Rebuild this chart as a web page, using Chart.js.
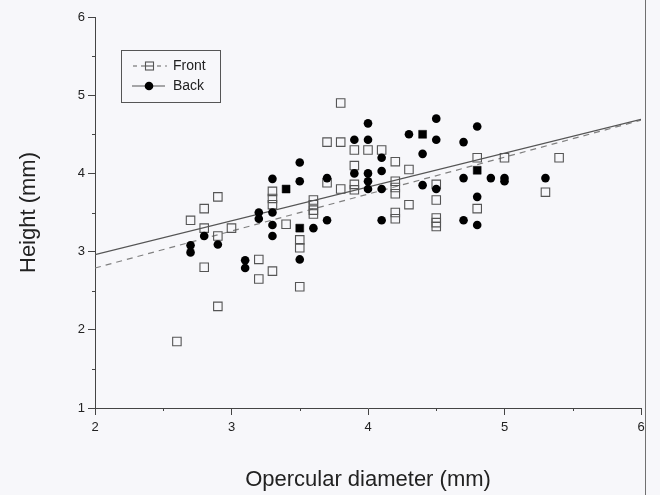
<!DOCTYPE html>
<html><head><meta charset="utf-8">
<script src="https://cdn.jsdelivr.net/npm/chart.js@4/dist/chart.umd.min.js"></script>
<style>
html,body{margin:0;padding:0;background:#f7f7fa;}
#wrap{position:relative;width:660px;height:495px;}
#edge{position:absolute;left:645px;top:0;width:1px;height:495px;background:#707070;}
</style></head><body>
<div id="wrap"><canvas id="c" width="660" height="495"></canvas><div id="edge"></div></div>
<script>
// Front (open squares)
const frontX = [2.6,2.7,2.8,2.8,2.8,2.9,2.9,2.9,3.0,3.2,3.2,3.3,3.3,3.3,3.3,3.4,3.5,3.5,3.5,3.6,3.6,3.6,3.6,3.7,3.7,3.8,3.8,3.8,3.9,3.9,3.9,3.9,4.0,4.1,4.2,4.2,4.2,4.2,4.2,4.2,4.3,4.3,4.5,4.5,4.5,4.5,4.5,4.8,4.8,5.0,5.3,5.4];
const frontY = [1.85,3.4,3.55,3.3,2.8,3.7,3.2,2.3,3.3,2.9,2.65,3.77,3.68,3.6,2.75,3.35,3.15,3.05,2.55,3.66,3.6,3.53,3.48,4.4,3.88,4.9,4.4,3.8,4.3,4.1,3.86,3.79,4.3,4.3,4.15,3.9,3.82,3.74,3.5,3.42,4.05,3.6,3.86,3.66,3.43,3.37,3.32,4.2,3.55,4.2,3.76,4.2];
// Back (filled circles)
const backX = [2.7,2.7,2.8,2.9,3.1,3.1,3.2,3.2,3.3,3.3,3.3,3.3,3.5,3.5,3.5,3.6,3.7,3.7,3.9,3.9,4.0,4.0,4.0,4.0,4.0,4.1,4.1,4.1,4.1,4.3,4.4,4.4,4.5,4.5,4.5,4.7,4.7,4.7,4.8,4.8,4.8,4.9,5.0,5.0,5.3];
const backY = [3.08,2.99,3.2,3.09,2.89,2.79,3.5,3.42,3.93,3.5,3.34,3.2,4.14,3.9,2.9,3.3,3.94,3.4,4.43,4.0,4.64,4.43,4.0,3.9,3.8,4.2,4.03,3.8,3.4,4.5,4.25,3.85,4.7,4.43,3.8,4.4,3.94,3.4,4.6,3.7,3.34,3.94,3.94,3.9,3.94];
// Coinciding points (drawn as filled squares)
const bothX = [3.4,3.5,4.4,4.8];
const bothY = [3.8,3.3,4.5,4.04];
// Regression lines (x ends and fitted heights)
const fitX = [2,6];
const frontFitY = [2.79,4.68];
const backFitY = [2.96,4.69];
// Ticks
const xTicks = [2,3,4,5,6];
const yTicks = [1,2,3,4,5,6];
const xMinor = [2.5,3.5,4.5,5.5];
const yMinor = [1.5,2.5,3.5,4.5,5.5];
const seriesNames = ['Front','Back'];

const pts = (xs, ys) => xs.map((x,i)=>({x, y:ys[i]}));
const FONT = "'Liberation Sans', Arial, sans-serif";
const AXC = '#444';

const legendPlugin = {
  id:'boxLegend',
  afterDraw(chart){
    const {ctx, chartArea:a} = chart;
    const L = a.left + 26, T = a.top + 33, W = 99, H = 52;
    ctx.save();
    ctx.strokeStyle = '#555'; ctx.lineWidth = 1;
    ctx.strokeRect(L+0.5, T+0.5, W, H);
    let y = T + 16;
    ctx.strokeStyle = '#777'; ctx.lineWidth = 1.2;
    ctx.setLineDash([4,4]);
    ctx.beginPath(); ctx.moveTo(L+12, y); ctx.lineTo(L+46, y); ctx.stroke();
    ctx.setLineDash([]);
    ctx.fillStyle = '#f7f7fa';
    ctx.fillRect(L+24, y-4.5, 9, 9);
    ctx.strokeStyle = '#555'; ctx.lineWidth = 1.1;
    ctx.strokeRect(L+24.5, y-4, 8, 8);
    ctx.beginPath(); ctx.moveTo(L+24.5, y); ctx.lineTo(L+32.5, y); ctx.stroke();
    ctx.fillStyle = '#222'; ctx.font = '14px ' + FONT; ctx.textBaseline = 'middle';
    ctx.fillText(seriesNames[0], L+52, y);
    y = T + 36;
    ctx.strokeStyle = '#555'; ctx.lineWidth = 1.2;
    ctx.beginPath(); ctx.moveTo(L+11, y); ctx.lineTo(L+44, y); ctx.stroke();
    ctx.fillStyle = '#000';
    ctx.beginPath(); ctx.arc(L+28, y, 4.3, 0, Math.PI*2); ctx.fill();
    ctx.fillStyle = '#222';
    ctx.fillText(seriesNames[1], L+52, y);
    ctx.restore();
  }
};

const minorTicks = {
  id:'minorTicks',
  afterDraw(chart){
    const {ctx, scales:{x, y}, chartArea:a} = chart;
    ctx.save();
    ctx.strokeStyle = AXC; ctx.lineWidth = 1;
    yMinor.forEach(v=>{
      const py = Math.round(y.getPixelForValue(v)) + 0.5;
      ctx.beginPath(); ctx.moveTo(a.left-3, py); ctx.lineTo(a.left, py); ctx.stroke();
    });
    xMinor.forEach(v=>{
      const px = Math.round(x.getPixelForValue(v)) + 0.5;
      ctx.beginPath(); ctx.moveTo(px, a.bottom); ctx.lineTo(px, a.bottom+3); ctx.stroke();
    });
    ctx.restore();
  }
};

new Chart(document.getElementById('c'), {
  type:'scatter',
  data:{
    datasets:[
      {label:'bothPts', data:pts(bothX,bothY), pointStyle:'rect', pointRadius:5.6, backgroundColor:'#000', borderColor:'#000', borderWidth:0.5},
      {label:seriesNames[1], data:pts(backX,backY), pointStyle:'circle', pointRadius:4.3, backgroundColor:'#000', borderColor:'#000', borderWidth:0},
      {label:seriesNames[0], data:pts(frontX,frontY), pointStyle:'rect', pointRadius:6, backgroundColor:'rgba(0,0,0,0)', borderColor:'#555', borderWidth:1.1},
      {label:'backFit', data:pts(fitX,backFitY), showLine:true, pointRadius:0, borderColor:'#555', borderWidth:1.2, fill:false},
      {label:'frontFit', data:pts(fitX,frontFitY), showLine:true, pointRadius:0, borderColor:'#808080', borderWidth:1.2, borderDash:[6,5], fill:false}
    ]
  },
  options:{
    responsive:false, animation:false, devicePixelRatio:1,
    layout:{padding:{top:17, right:19, left:0, bottom:0}},
    plugins:{legend:{display:false}, tooltip:{enabled:false}},
    scales:{
      x:{
        type:'linear', min:2, max:6,
        afterBuildTicks(s){ s.ticks = xTicks.map(v=>({value:v})); },
        afterFit(s){ s.height = 87; },
        ticks:{font:{family:FONT, size:13}, color:'#222', padding:5},
        grid:{drawOnChartArea:false, tickLength:7, color:AXC},
        border:{color:AXC, width:1},
        title:{display:true, text:'Opercular diameter (mm)', font:{family:FONT, size:22}, color:'#222', padding:{top:0,bottom:2}}
      },
      y:{
        type:'linear', min:1, max:6,
        afterBuildTicks(s){ s.ticks = yTicks.map(v=>({value:v})); },
        afterFit(s){ s.width = 95; },
        ticks:{font:{family:FONT, size:13}, color:'#222', padding:3},
        grid:{drawOnChartArea:false, tickLength:7, color:AXC},
        border:{color:AXC, width:1},
        title:{display:true, text:'Height (mm)', font:{family:FONT, size:22}, color:'#222', padding:{top:16,bottom:0}}
      }
    }
  },
  plugins:[minorTicks, legendPlugin]
});
</script>
</body></html>
